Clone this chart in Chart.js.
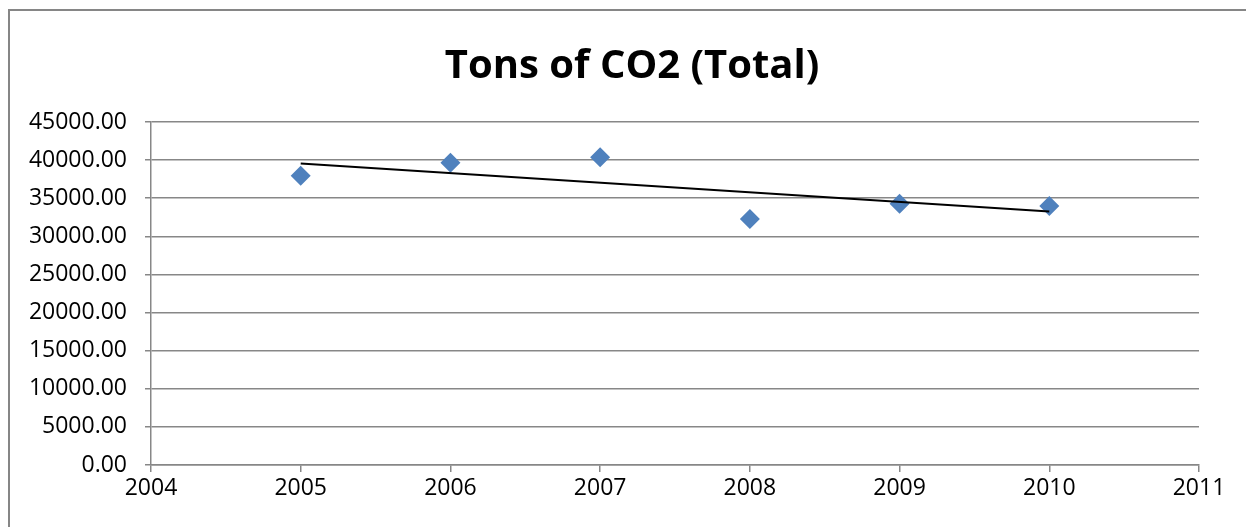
<!DOCTYPE html>
<html>
<head>
<meta charset="utf-8">
<title>Tons of CO2 (Total)</title>
<script src="https://cdn.jsdelivr.net/npm/chart.js@4.4.0/dist/chart.umd.min.js"></script>
<style>
  html, body { margin: 0; padding: 0; background: #ffffff; }
  #wrap { position: relative; width: 1246px; height: 527px; }
</style>
</head>
<body>
<div id="wrap"><canvas id="chart"></canvas></div>
<script>
// Yearly totals
const years = [2005, 2006, 2007, 2008, 2009, 2010];
const tonsCO2 = [37950, 39660, 40370, 32270, 34280, 33980];

// Axis ranges and ticks
const xRange = [2004, 2011];
const yRange = [0, 45000];
const yStep = 5000;

const titleText = 'Tons of CO2 (Total)';

// Least-squares linear trend over the yearly totals
function linearTrend(xs, ys) {
  const n = xs.length;
  const mx = xs.reduce((a, b) => a + b, 0) / n;
  const my = ys.reduce((a, b) => a + b, 0) / n;
  let num = 0, den = 0;
  for (let i = 0; i < n; i++) {
    num += (xs[i] - mx) * (ys[i] - my);
    den += (xs[i] - mx) * (xs[i] - mx);
  }
  const slope = num / den;
  const icpt = my - slope * mx;
  return [xs[0], xs[n - 1]].map(x => ({ x: x, y: icpt + slope * x }));
}

const points = years.map((y, i) => ({ x: y, y: tonsCO2[i] }));
const trend = linearTrend(years, tonsCO2);

const GRID = '#878787';
const FONT = '"Open Sans", "Liberation Sans", sans-serif';

// Thin gray frame along the top and left of the chart
const framePlugin = {
  id: 'frame',
  beforeDraw(chart) {
    const ctx = chart.ctx;
    ctx.save();
    ctx.fillStyle = '#ffffff';
    ctx.fillRect(0, 0, chart.width, chart.height);
    ctx.strokeStyle = '#868686';
    ctx.lineWidth = 2;
    ctx.beginPath();
    ctx.moveTo(9, chart.height + 5);
    ctx.lineTo(9, 10);
    ctx.lineTo(chart.width + 5, 10);
    ctx.stroke();
    ctx.restore();
  }
};

// Center the title over the span from the frame's inner area to the plot's right edge
const titleSpanPlugin = {
  id: 'titleSpan',
  afterLayout(chart) {
    const t = chart.titleBlock;
    if (t) {
      t.left = 65;
      t.right = chart.chartArea.right;
      t.width = t.right - t.left;
    }
  }
};

new Chart(document.getElementById('chart'), {
  type: 'scatter',
  data: {
    datasets: [
      {
        label: 'Linear trend',
        type: 'line',
        data: trend,
        borderColor: '#000000',
        borderWidth: 2,
        pointRadius: 0,
        fill: false,
        order: 0
      },
      {
        label: 'Tons of CO2',
        data: points,
        pointStyle: 'rectRot',
        pointRadius: 10,
        pointHoverRadius: 10,
        backgroundColor: '#4F81BD',
        borderColor: '#4F81BD',
        borderWidth: 0,
        order: 1
      }
    ]
  },
  options: {
    responsive: true,
    maintainAspectRatio: false,
    animation: false,
    events: [],
    layout: { padding: { left: 0, right: 47, top: 0, bottom: 0 } },
    plugins: {
      legend: { display: false },
      tooltip: { enabled: false },
      title: {
        display: true,
        text: titleText,
        color: '#000000',
        font: { family: FONT, size: 40, weight: 'bold', lineHeight: 1.2 },
        padding: { top: 43, bottom: 31 }
      }
    },
    scales: {
      x: {
        type: 'linear',
        min: xRange[0],
        max: xRange[1],
        afterFit(scale) { scale.height = 62; },
        ticks: {
          stepSize: 1,
          color: '#000000',
          padding: 3,
          font: { family: FONT, size: 23 },
          callback: v => String(v)
        },
        grid: {
          drawOnChartArea: false,
          drawTicks: true,
          tickLength: 7,
          color: GRID,
          lineWidth: 1.5
        },
        border: { display: true, color: GRID, width: 1.5 }
      },
      y: {
        min: yRange[0],
        max: yRange[1],
        afterFit(scale) { scale.width = 151; },
        ticks: {
          stepSize: yStep,
          color: '#000000',
          padding: 18,
          font: { family: FONT, size: 23 },
          callback: v => Number(v).toFixed(2)
        },
        grid: {
          drawOnChartArea: true,
          drawTicks: true,
          tickLength: 6,
          color: GRID,
          lineWidth: 1.5
        },
        border: { display: true, color: GRID, width: 1.5 }
      }
    }
  },
  plugins: [framePlugin, titleSpanPlugin]
});
</script>
</body>
</html>
